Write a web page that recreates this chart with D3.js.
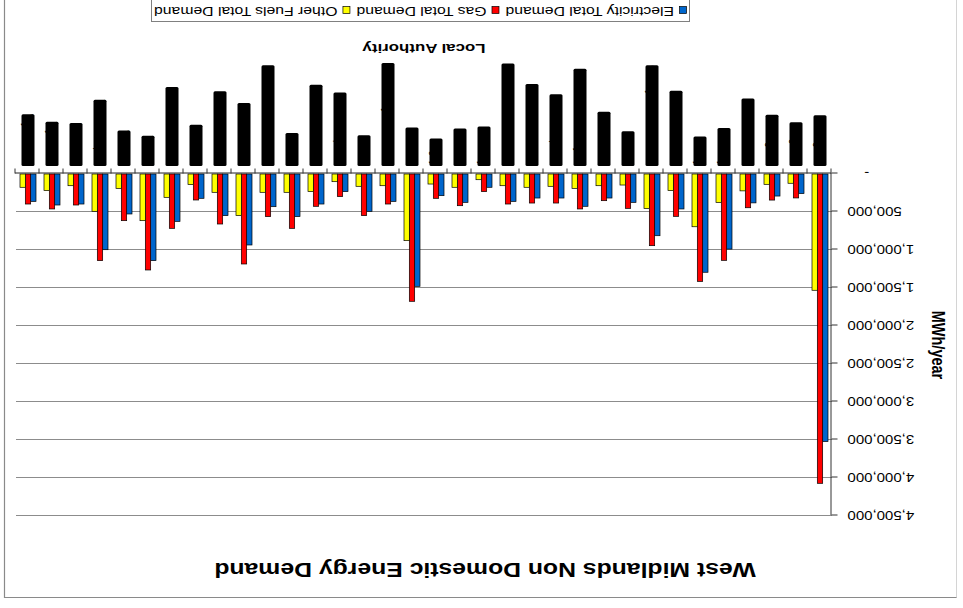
<!DOCTYPE html>
<html>
<head>
<meta charset="utf-8">
<script src="https://cdn.jsdelivr.net/npm/d3@7"></script>
<style>
  html, body { margin: 0; padding: 0; background: #fff; }
  svg { display: block; }
  text { font-family: "Liberation Sans", Arial, sans-serif; }
</style>
</head>
<body>
<svg id="chart" width="963" height="608"></svg>
<script>
// Local authorities (pre-2009 West Midlands districts)
const authorities = [
  "Birmingham", "Bridgnorth", "Bromsgrove", "Cannock Chase", "Coventry", "Dudley",
  "East Staffordshire", "County of Herefordshire", "Lichfield", "Malvern Hills",
  "Newcastle-under-Lyme", "North Shropshire", "North Warwickshire", "Nuneaton and Bedworth",
  "Oswestry", "Redditch", "Rugby", "Sandwell", "Shrewsbury and Atcham", "Solihull",
  "South Shropshire", "South Staffordshire", "Stafford", "Staffordshire Moorlands",
  "Stoke-on-Trent", "Stratford-on-Avon", "Tamworth", "Telford and Wrekin", "Walsall",
  "Warwick", "Wolverhampton", "Worcester", "Wychavon", "Wyre Forest"
];

// Demand in MWh/year
const electricity = [
  3520000, 258000, 290000, 380000, 988000, 1293000, 460000, 812000, 373000, 316000,
  425000, 316000, 316000, 360000, 175000, 373000, 285000, 1478000, 360000, 491000,
  232000, 395000, 561000, 430000, 934000, 548000, 320000, 623000, 1140000, 526000,
  996000, 395000, 408000, 360000
];
const gas = [
  4070000, 315000, 343000, 444000, 1136000, 1413000, 557000, 943000, 452000, 351000,
  460000, 382000, 382000, 395000, 232000, 417000, 320000, 1675000, 395000, 548000,
  298000, 425000, 715000, 561000, 1184000, 658000, 342000, 715000, 1263000, 614000,
  1140000, 408000, 460000, 395000
];
const otherFuels = [
  1530000, 122000, 136000, 222000, 375000, 694000, 219000, 455000, 145000, 154000,
  189000, 162000, 175000, 154000, 75000, 175000, 132000, 877000, 154000, 162000,
  101000, 232000, 241000, 241000, 548000, 241000, 140000, 307000, 614000, 189000,
  491000, 154000, 219000, 175000
];

const seriesNames = ["Electricity Total Demand", "Gas Total Demand", "Other Fuels Total Demand"];
const seriesColors = ["#0066cc", "#ff0000", "#ffff00"];
const yTicks = [0, 500000, 1000000, 1500000, 2000000, 2500000, 3000000, 3500000, 4000000, 4500000];

const chartTitle = "West Midlands Non Domestic Energy Demand";
const xTitle = "Local Authority";
const yTitle = "MWh/year";

// ---- layout ----
const W = 963, H = 608;
const SX = 1.25;                      // horizontal stretch applied to all lettering
const plot = { left: 131, right: 947, top: 92, bottom: 434 };

const svg = d3.select("#chart");
svg.append("rect").attr("width", W).attr("height", H).attr("fill", "#fff");

// the whole figure is drawn turned half a revolution
const root = svg.append("g").attr("transform", `rotate(180 ${W / 2} ${H / 2})`);

// chart frame
root.append("path")
  .attr("d", `M6.5,${H + 2}V10.5H958.5V${H + 2}`)
  .attr("fill", "none").attr("stroke", "#d4d4d4").attr("stroke-width", 1);
root.append("path")
  .attr("d", `M6.5,10.5H958.5V${H + 2}`)
  .attr("fill", "none").attr("stroke", "#8a8a8a").attr("stroke-width", 1.2);

// scales
const x0 = d3.scaleBand()
  .domain(authorities)
  .range([plot.left, plot.right])
  .paddingInner(1 / 3)
  .paddingOuter(1 / 6);
const x1 = d3.scaleBand()
  .domain(seriesNames)
  .range([0, x0.bandwidth()]);
const y = d3.scaleLinear()
  .domain([yTicks[0], yTicks[yTicks.length - 1]])
  .range([plot.bottom, plot.top]);
const color = d3.scaleOrdinal().domain(seriesNames).range(seriesColors);

// gridlines
root.append("g").selectAll("line")
  .data(yTicks.filter(v => v > 0))
  .join("line")
  .attr("x1", plot.left).attr("x2", plot.right)
  .attr("y1", d => Math.round(y(d)) + 0.5).attr("y2", d => Math.round(y(d)) + 0.5)
  .attr("stroke", "#8c8c8c").attr("stroke-width", 1);

// value axis
const yAxis = root.append("g")
  .attr("transform", `translate(${plot.left + 0.5},0.5)`)
  .call(d3.axisLeft(y)
    .tickValues(yTicks)
    .tickSize(6)
    .tickSizeOuter(0)
    .tickFormat(v => v === 0 ? "-\u2007\u2007" : d3.format(",")(v)));
yAxis.select(".domain").attr("stroke", "#333");
yAxis.selectAll(".tick line").attr("stroke", "#333");
yAxis.selectAll(".tick text")
  .attr("x", 0)
  .attr("transform", `translate(-16,0) scale(${SX},1)`)
  .attr("fill", "#000")
  .style("font-family", "'Liberation Sans', Arial, sans-serif")
  .style("font-size", "12px");

// bars
const rows = authorities.map((name, i) => ({
  name,
  values: [electricity[i], gas[i], otherFuels[i]]
}));
const groups = root.append("g").selectAll("g")
  .data(rows)
  .join("g")
  .attr("transform", d => `translate(${x0(d.name)},0)`);
groups.selectAll("rect")
  .data(d => d.values.map((v, k) => ({ series: seriesNames[k], value: v })))
  .join("rect")
  .attr("x", d => x1(d.series))
  .attr("y", d => y(d.value))
  .attr("width", x1.bandwidth())
  .attr("height", d => y(0) - y(d.value))
  .attr("fill", d => color(d.series))
  .attr("stroke", "#000")
  .attr("stroke-width", 0.7);

// category axis
const xIdx = d3.scaleLinear().domain([0, authorities.length]).range([plot.left, plot.right]);
const xAxis = root.append("g")
  .attr("transform", `translate(0.5,${plot.bottom + 0.5})`)
  .call(d3.axisBottom(xIdx)
    .tickValues(d3.range(authorities.length + 1))
    .tickSize(5)
    .tickSizeOuter(0)
    .tickFormat(""));
xAxis.select(".domain").attr("stroke", "#222");
xAxis.selectAll(".tick line").attr("stroke", "#333");

// category labels, blacked out
const labelTop = plot.bottom + 8;
const labels = root.append("g").selectAll("g")
  .data(authorities)
  .join("g")
  .attr("transform", d => `translate(${x0(d) + x0.bandwidth() / 2},${labelTop})`);
labels.append("text")
  .attr("transform", `scale(${SX},1) rotate(-90)`)
  .attr("text-anchor", "end")
  .attr("dy", "0.35em")
  .style("font-size", "9.5px")
  .attr("fill", "#000")
  .text(d => d);
labels.each(function () {
  const g = d3.select(this);
  const len = g.select("text").node().getComputedTextLength();
  g.insert("rect", "text")
    .attr("x", -6.5).attr("y", 0)
    .attr("width", 13).attr("height", len)
    .attr("rx", 1.5)
    .attr("fill", "#000");
});

// titles
root.append("text")
  .attr("transform", `translate(478,45) scale(${SX},1)`)
  .attr("text-anchor", "middle")
  .style("font-size", "19.8px").style("font-weight", "bold")
  .text(chartTitle);

root.append("text")
  .attr("transform", `translate(${(plot.left + plot.right) / 2},564) scale(${SX},1)`)
  .attr("text-anchor", "middle")
  .style("font-size", "13.5px").style("font-weight", "bold")
  .text(xTitle);

root.append("text")
  .attr("transform", `translate(31,${(plot.top + plot.bottom) / 2}) scale(${SX},1) rotate(-90)`)
  .attr("text-anchor", "middle")
  .style("font-size", "14.5px").style("font-weight", "bold")
  .text(yTitle);

// legend
const legend = root.append("g");
legend.append("rect")
  .attr("x", 273.5).attr("y", 586.5)
  .attr("width", 538).attr("height", 40)
  .attr("fill", "#fff").attr("stroke", "#808080").attr("stroke-width", 1);
let lx = 276;
seriesNames.forEach(name => {
  const item = legend.append("g").attr("transform", `translate(${lx},0)`);
  item.append("rect")
    .attr("x", 0.5).attr("y", 594.5).attr("width", 7).attr("height", 7)
    .attr("fill", color(name)).attr("stroke", "#000").attr("stroke-width", 0.7);
  const t = item.append("text")
    .attr("transform", `translate(13,601) scale(${SX},1)`)
    .style("font-size", "12.6px")
    .text(name);
  lx += 13 + t.node().getComputedTextLength() * SX + 6;
});
</script>
</body>
</html>
